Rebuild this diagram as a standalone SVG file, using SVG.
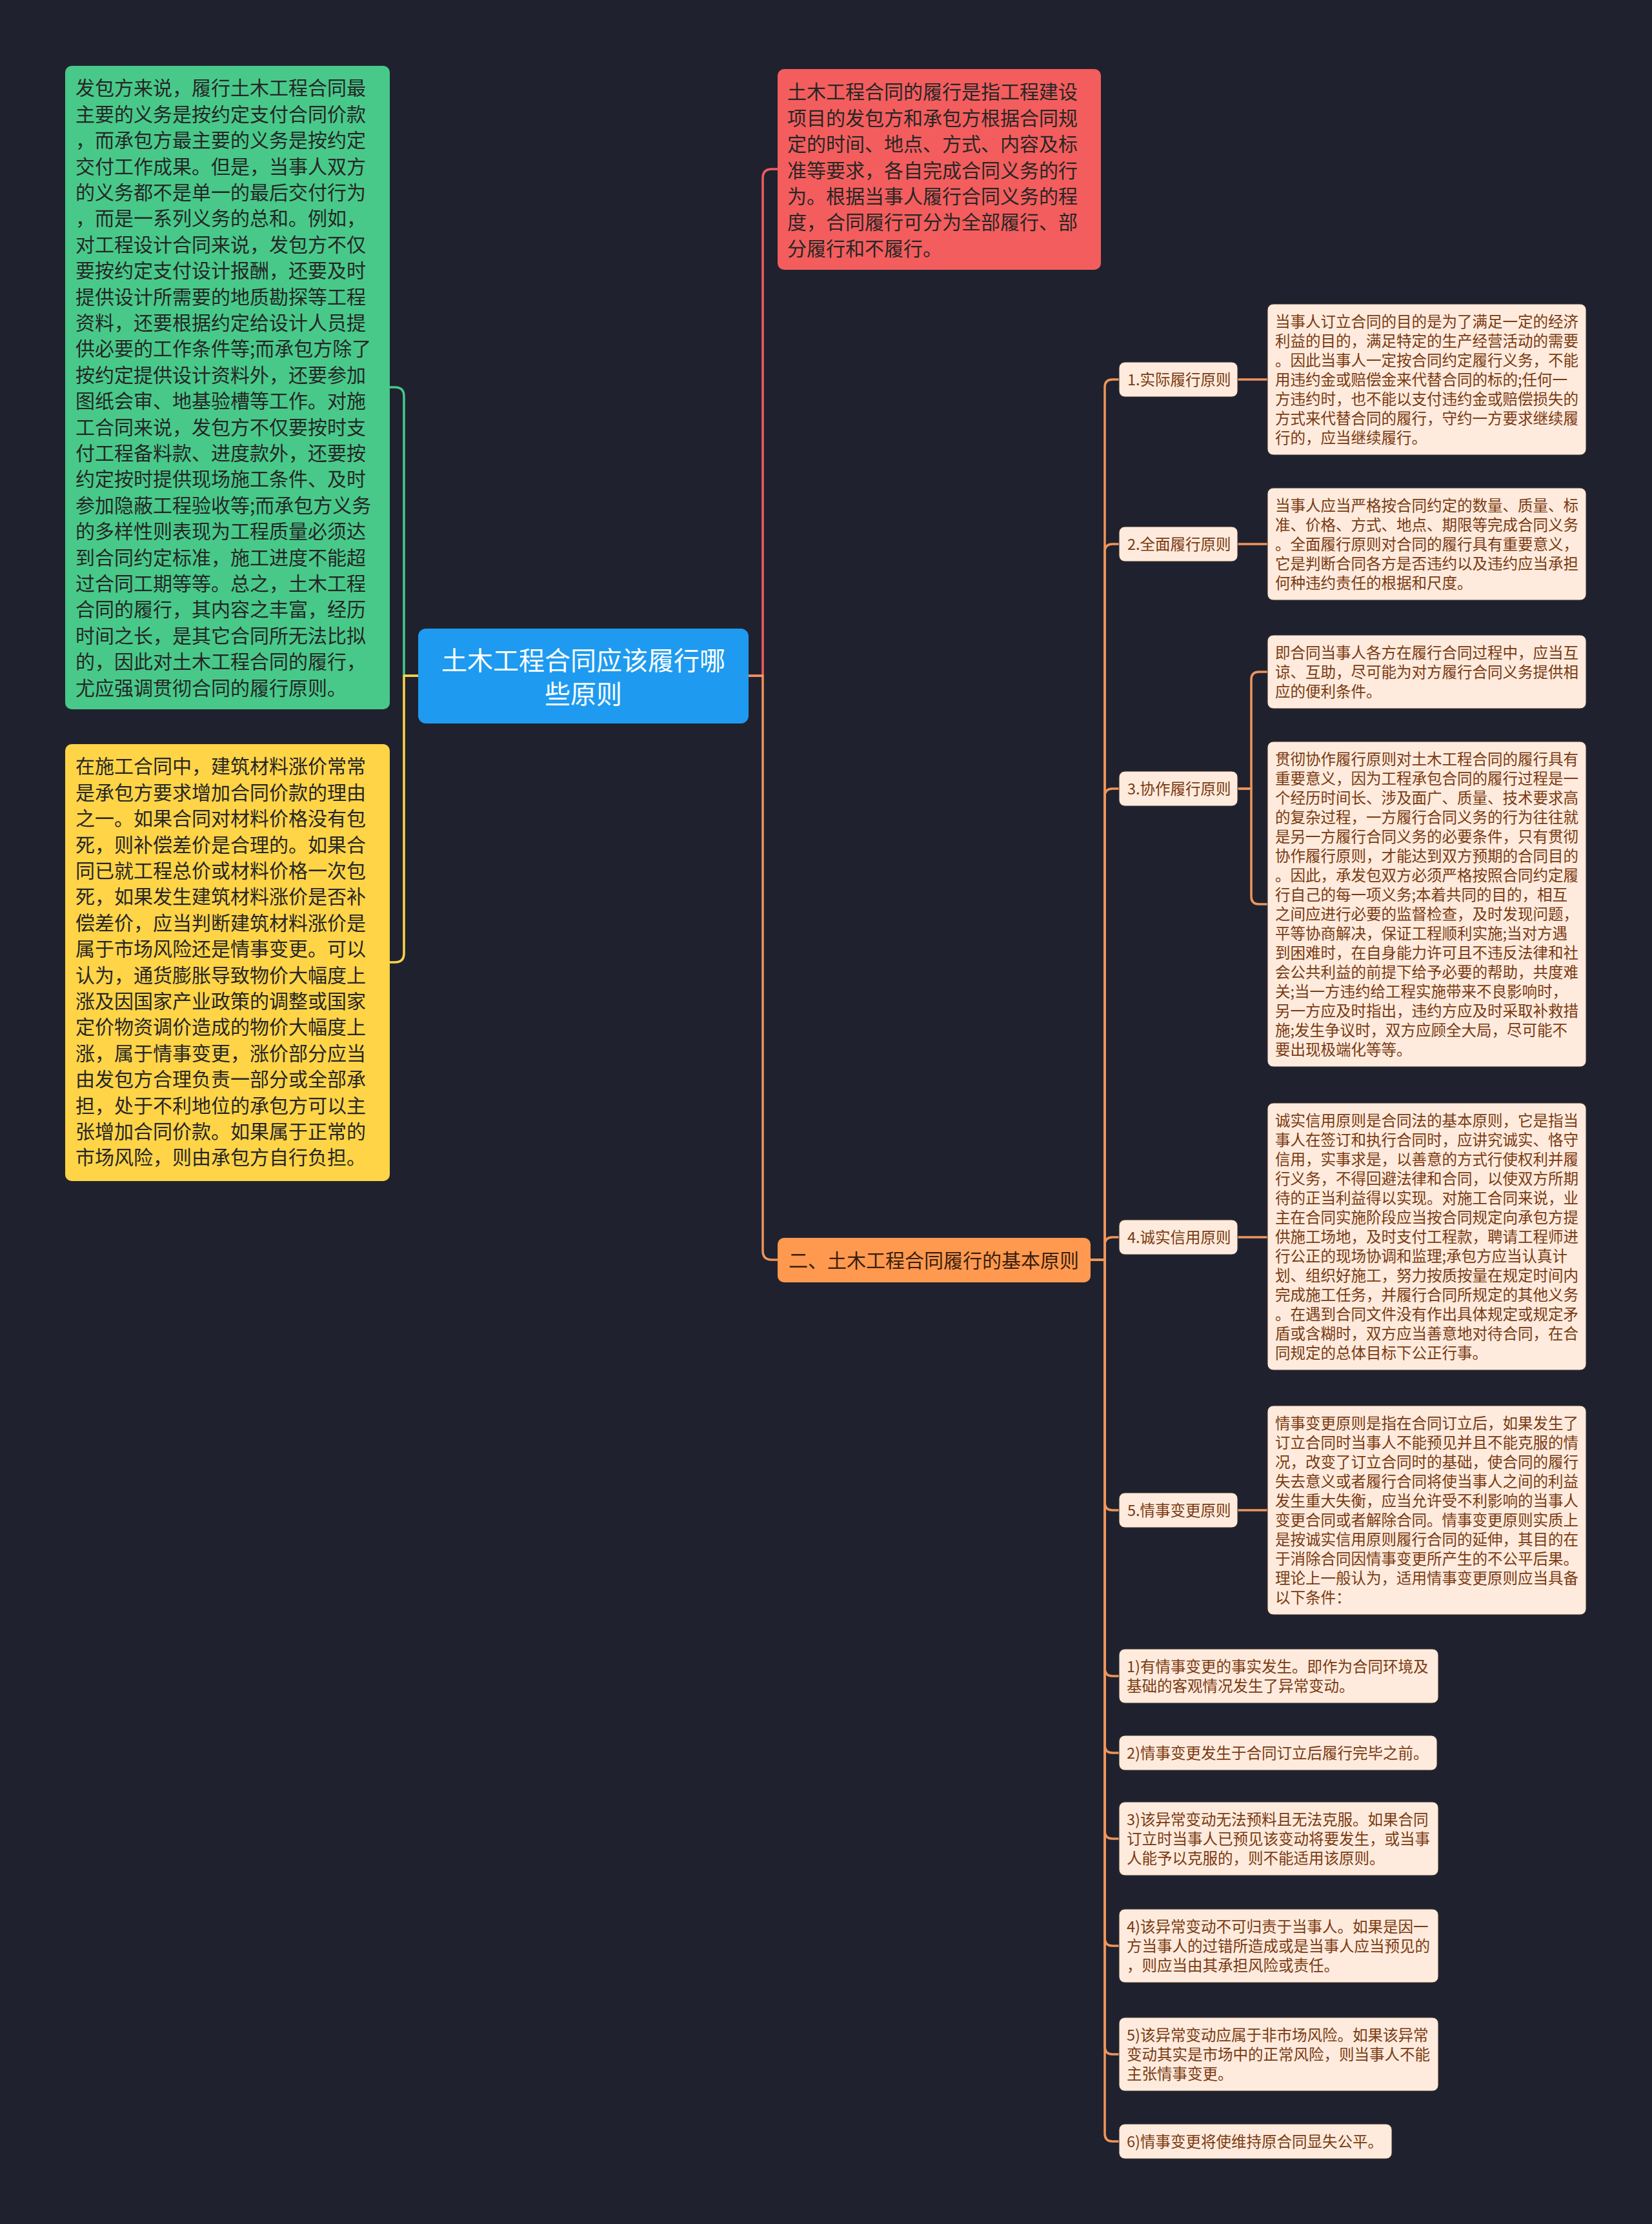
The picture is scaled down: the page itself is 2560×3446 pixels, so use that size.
<svg xmlns="http://www.w3.org/2000/svg" width="2560" height="3446" viewBox="0 0 2560 3446">
<style>
text{font-family:"Noto Sans CJK SC","Noto Sans",sans-serif;}
.big{font-size:30px;fill:#262626;}
.ctr{font-size:40px;fill:#ffffff;text-anchor:middle;}
.sec{font-size:30px;fill:#3a1e0c;text-anchor:middle;}
.sm{font-size:23.5px;fill:#7a3a12;}
.peach{fill:#feebdd;stroke:#3a2c24;stroke-width:1;}
.ln{fill:none;stroke-width:3.5;stroke-linejoin:round;}
.lo{stroke:#f0955b;}
</style>
<rect x="0" y="0" width="2560" height="3446" fill="#1f222e"/>
<g id="connectors">
<path class="ln" stroke="#48c98a" d="M648,1047 H626 V614 Q626,600 612,600 H604"/>
<path class="ln" stroke="#ffd447" d="M648,1047 H626 V1477 Q626,1491 612,1491 H604"/>
<path class="ln" stroke="#f35d5d" d="M1160,1047 H1182 V276 Q1182,262 1196,262 H1205"/>
<path class="ln lo" d="M1160,1047 H1182 V1938 Q1182,1952 1196,1952 H1205"/>
<path class="ln lo" d="M1690,1952 H1712 V600 Q1712,588 1724,588 H1734"/>
<path class="ln lo" d="M1690,1952 H1712 V855 Q1712,843 1724,843 H1734"/>
<path class="ln lo" d="M1690,1952 H1712 V1234 Q1712,1222 1724,1222 H1734"/>
<path class="ln lo" d="M1690,1952 H1712 V1929 Q1712,1917 1724,1917 H1734"/>
<path class="ln lo" d="M1690,1952 H1712 V2328 Q1712,2340 1724,2340 H1734"/>
<path class="ln lo" d="M1690,1952 H1712 V2585 Q1712,2597 1724,2597 H1734"/>
<path class="ln lo" d="M1690,1952 H1712 V2704 Q1712,2716 1724,2716 H1734"/>
<path class="ln lo" d="M1690,1952 H1712 V2837 Q1712,2849 1724,2849 H1734"/>
<path class="ln lo" d="M1690,1952 H1712 V3003 Q1712,3015 1724,3015 H1734"/>
<path class="ln lo" d="M1690,1952 H1712 V3171 Q1712,3183 1724,3183 H1734"/>
<path class="ln lo" d="M1690,1952 H1712 V3306 Q1712,3318 1724,3318 H1734"/>
<path class="ln lo" d="M1918,588 H1964"/>
<path class="ln lo" d="M1918,843 H1964"/>
<path class="ln lo" d="M1918,1222 H1939 V1053 Q1939,1041 1951,1041 H1964"/>
<path class="ln lo" d="M1918,1222 H1939 V1389 Q1939,1401 1951,1401 H1964"/>
<path class="ln lo" d="M1918,1917 H1964"/>
<path class="ln lo" d="M1918,2340 H1964"/>
</g>
<g id="center">
<rect x="648" y="974" width="512" height="147" rx="12" fill="#1e9bf0"/>
<text class="ctr" x="904" y="1038">土木工程合同应该履行哪</text>
<text class="ctr" x="904" y="1090">些原则</text>
</g>
<g id="green">
<rect x="101" y="102" width="503" height="997" rx="10" fill="#48c98a"/>
<text class="big" x="117" y="147.4"><tspan x="117">发包方来说，履行土木工程合同最</tspan><tspan x="117" dy="40.4">主要的义务是按约定支付合同价款</tspan><tspan x="117" dy="40.4">，而承包方最主要的义务是按约定</tspan><tspan x="117" dy="40.4">交付工作成果。但是，当事人双方</tspan><tspan x="117" dy="40.4">的义务都不是单一的最后交付行为</tspan><tspan x="117" dy="40.4">，而是一系列义务的总和。例如，</tspan><tspan x="117" dy="40.4">对工程设计合同来说，发包方不仅</tspan><tspan x="117" dy="40.4">要按约定支付设计报酬，还要及时</tspan><tspan x="117" dy="40.4">提供设计所需要的地质勘探等工程</tspan><tspan x="117" dy="40.4">资料，还要根据约定给设计人员提</tspan><tspan x="117" dy="40.4">供必要的工作条件等;而承包方除了</tspan><tspan x="117" dy="40.4">按约定提供设计资料外，还要参加</tspan><tspan x="117" dy="40.4">图纸会审、地基验槽等工作。对施</tspan><tspan x="117" dy="40.4">工合同来说，发包方不仅要按时支</tspan><tspan x="117" dy="40.4">付工程备料款、进度款外，还要按</tspan><tspan x="117" dy="40.4">约定按时提供现场施工条件、及时</tspan><tspan x="117" dy="40.4">参加隐蔽工程验收等;而承包方义务</tspan><tspan x="117" dy="40.4">的多样性则表现为工程质量必须达</tspan><tspan x="117" dy="40.4">到合同约定标准，施工进度不能超</tspan><tspan x="117" dy="40.4">过合同工期等等。总之，土木工程</tspan><tspan x="117" dy="40.4">合同的履行，其内容之丰富，经历</tspan><tspan x="117" dy="40.4">时间之长，是其它合同所无法比拟</tspan><tspan x="117" dy="40.4">的，因此对土木工程合同的履行，</tspan><tspan x="117" dy="40.4">尤应强调贯彻合同的履行原则。</tspan></text>
</g>
<g id="yellow">
<rect x="101" y="1153" width="503" height="677" rx="10" fill="#ffd447"/>
<text class="big" x="117" y="1198.4"><tspan x="117">在施工合同中，建筑材料涨价常常</tspan><tspan x="117" dy="40.4">是承包方要求增加合同价款的理由</tspan><tspan x="117" dy="40.4">之一。如果合同对材料价格没有包</tspan><tspan x="117" dy="40.4">死，则补偿差价是合理的。如果合</tspan><tspan x="117" dy="40.4">同已就工程总价或材料价格一次包</tspan><tspan x="117" dy="40.4">死，如果发生建筑材料涨价是否补</tspan><tspan x="117" dy="40.4">偿差价，应当判断建筑材料涨价是</tspan><tspan x="117" dy="40.4">属于市场风险还是情事变更。可以</tspan><tspan x="117" dy="40.4">认为，通货膨胀导致物价大幅度上</tspan><tspan x="117" dy="40.4">涨及因国家产业政策的调整或国家</tspan><tspan x="117" dy="40.4">定价物资调价造成的物价大幅度上</tspan><tspan x="117" dy="40.4">涨，属于情事变更，涨价部分应当</tspan><tspan x="117" dy="40.4">由发包方合理负责一部分或全部承</tspan><tspan x="117" dy="40.4">担，处于不利地位的承包方可以主</tspan><tspan x="117" dy="40.4">张增加合同价款。如果属于正常的</tspan><tspan x="117" dy="40.4">市场风险，则由承包方自行负担。</tspan></text>
</g>
<g id="red">
<rect x="1205" y="107" width="501" height="311" rx="10" fill="#f35d5d"/>
<text class="big" x="1220" y="153.4"><tspan x="1220">土木工程合同的履行是指工程建设</tspan><tspan x="1220" dy="40.4">项目的发包方和承包方根据合同规</tspan><tspan x="1220" dy="40.4">定的时间、地点、方式、内容及标</tspan><tspan x="1220" dy="40.4">准等要求，各自完成合同义务的行</tspan><tspan x="1220" dy="40.4">为。根据当事人履行合同义务的程</tspan><tspan x="1220" dy="40.4">度，合同履行可分为全部履行、部</tspan><tspan x="1220" dy="40.4">分履行和不履行。</tspan></text>
</g>
<g id="section2">
<rect x="1205" y="1918" width="485" height="69" rx="10" fill="#ff9950"/>
<text class="sec" x="1447" y="1964">二、土木工程合同履行的基本原则</text>
</g>
<g id="label1">
<rect class="peach" x="1734" y="561" width="184" height="54" rx="9"/>
<text class="sm" x="1747" y="597">1.实际履行原则</text>
</g>
<g id="detail1">
<rect class="peach" x="1964" y="471" width="494" height="234" rx="9"/>
<text class="sm" x="1976" y="507"><tspan x="1976">当事人订立合同的目的是为了满足一定的经济</tspan><tspan x="1976" dy="30">利益的目的，满足特定的生产经营活动的需要</tspan><tspan x="1976" dy="30">。因此当事人一定按合同约定履行义务，不能</tspan><tspan x="1976" dy="30">用违约金或赔偿金来代替合同的标的;任何一</tspan><tspan x="1976" dy="30">方违约时，也不能以支付违约金或赔偿损失的</tspan><tspan x="1976" dy="30">方式来代替合同的履行，守约一方要求继续履</tspan><tspan x="1976" dy="30">行的，应当继续履行。</tspan></text>
</g>
<g id="label2">
<rect class="peach" x="1734" y="816" width="184" height="54" rx="9"/>
<text class="sm" x="1747" y="852">2.全面履行原则</text>
</g>
<g id="detail2">
<rect class="peach" x="1964" y="756" width="494" height="174" rx="9"/>
<text class="sm" x="1976" y="792"><tspan x="1976">当事人应当严格按合同约定的数量、质量、标</tspan><tspan x="1976" dy="30">准、价格、方式、地点、期限等完成合同义务</tspan><tspan x="1976" dy="30">。全面履行原则对合同的履行具有重要意义，</tspan><tspan x="1976" dy="30">它是判断合同各方是否违约以及违约应当承担</tspan><tspan x="1976" dy="30">何种违约责任的根据和尺度。</tspan></text>
</g>
<g id="label3">
<rect class="peach" x="1734" y="1195" width="184" height="54" rx="9"/>
<text class="sm" x="1747" y="1231">3.协作履行原则</text>
</g>
<g id="detail3a">
<rect class="peach" x="1964" y="984" width="494" height="114" rx="9"/>
<text class="sm" x="1976" y="1020"><tspan x="1976">即合同当事人各方在履行合同过程中，应当互</tspan><tspan x="1976" dy="30">谅、互助，尽可能为对方履行合同义务提供相</tspan><tspan x="1976" dy="30">应的便利条件。</tspan></text>
</g>
<g id="detail3b">
<rect class="peach" x="1964" y="1149" width="494" height="504" rx="9"/>
<text class="sm" x="1976" y="1185"><tspan x="1976">贯彻协作履行原则对土木工程合同的履行具有</tspan><tspan x="1976" dy="30">重要意义，因为工程承包合同的履行过程是一</tspan><tspan x="1976" dy="30">个经历时间长、涉及面广、质量、技术要求高</tspan><tspan x="1976" dy="30">的复杂过程，一方履行合同义务的行为往往就</tspan><tspan x="1976" dy="30">是另一方履行合同义务的必要条件，只有贯彻</tspan><tspan x="1976" dy="30">协作履行原则，才能达到双方预期的合同目的</tspan><tspan x="1976" dy="30">。因此，承发包双方必须严格按照合同约定履</tspan><tspan x="1976" dy="30">行自己的每一项义务;本着共同的目的，相互</tspan><tspan x="1976" dy="30">之间应进行必要的监督检查，及时发现问题，</tspan><tspan x="1976" dy="30">平等协商解决，保证工程顺利实施;当对方遇</tspan><tspan x="1976" dy="30">到困难时，在自身能力许可且不违反法律和社</tspan><tspan x="1976" dy="30">会公共利益的前提下给予必要的帮助，共度难</tspan><tspan x="1976" dy="30">关;当一方违约给工程实施带来不良影响时，</tspan><tspan x="1976" dy="30">另一方应及时指出，违约方应及时采取补救措</tspan><tspan x="1976" dy="30">施;发生争议时，双方应顾全大局，尽可能不</tspan><tspan x="1976" dy="30">要出现极端化等等。</tspan></text>
</g>
<g id="label4">
<rect class="peach" x="1734" y="1890" width="184" height="54" rx="9"/>
<text class="sm" x="1747" y="1926">4.诚实信用原则</text>
</g>
<g id="detail4">
<rect class="peach" x="1964" y="1709" width="494" height="414" rx="9"/>
<text class="sm" x="1976" y="1745"><tspan x="1976">诚实信用原则是合同法的基本原则，它是指当</tspan><tspan x="1976" dy="30">事人在签订和执行合同时，应讲究诚实、恪守</tspan><tspan x="1976" dy="30">信用，实事求是，以善意的方式行使权利并履</tspan><tspan x="1976" dy="30">行义务，不得回避法律和合同，以使双方所期</tspan><tspan x="1976" dy="30">待的正当利益得以实现。对施工合同来说，业</tspan><tspan x="1976" dy="30">主在合同实施阶段应当按合同规定向承包方提</tspan><tspan x="1976" dy="30">供施工场地，及时支付工程款，聘请工程师进</tspan><tspan x="1976" dy="30">行公正的现场协调和监理;承包方应当认真计</tspan><tspan x="1976" dy="30">划、组织好施工，努力按质按量在规定时间内</tspan><tspan x="1976" dy="30">完成施工任务，并履行合同所规定的其他义务</tspan><tspan x="1976" dy="30">。在遇到合同文件没有作出具体规定或规定矛</tspan><tspan x="1976" dy="30">盾或含糊时，双方应当善意地对待合同，在合</tspan><tspan x="1976" dy="30">同规定的总体目标下公正行事。</tspan></text>
</g>
<g id="label5">
<rect class="peach" x="1734" y="2313" width="184" height="54" rx="9"/>
<text class="sm" x="1747" y="2349">5.情事变更原则</text>
</g>
<g id="detail5">
<rect class="peach" x="1964" y="2178" width="494" height="324" rx="9"/>
<text class="sm" x="1976" y="2214"><tspan x="1976">情事变更原则是指在合同订立后，如果发生了</tspan><tspan x="1976" dy="30">订立合同时当事人不能预见并且不能克服的情</tspan><tspan x="1976" dy="30">况，改变了订立合同时的基础，使合同的履行</tspan><tspan x="1976" dy="30">失去意义或者履行合同将使当事人之间的利益</tspan><tspan x="1976" dy="30">发生重大失衡，应当允许受不利影响的当事人</tspan><tspan x="1976" dy="30">变更合同或者解除合同。情事变更原则实质上</tspan><tspan x="1976" dy="30">是按诚实信用原则履行合同的延伸，其目的在</tspan><tspan x="1976" dy="30">于消除合同因情事变更所产生的不公平后果。</tspan><tspan x="1976" dy="30">理论上一般认为，适用情事变更原则应当具备</tspan><tspan x="1976" dy="30">以下条件：</tspan></text>
</g>
<g id="item1">
<rect class="peach" x="1734" y="2555" width="495" height="84" rx="9"/>
<text class="sm" x="1746" y="2591"><tspan x="1746">1)有情事变更的事实发生。即作为合同环境及</tspan><tspan x="1746" dy="30">基础的客观情况发生了异常变动。</tspan></text>
</g>
<g id="item2">
<rect class="peach" x="1734" y="2689" width="493" height="54" rx="9"/>
<text class="sm" x="1746" y="2725">2)情事变更发生于合同订立后履行完毕之前。</text>
</g>
<g id="item3">
<rect class="peach" x="1734" y="2792" width="495" height="114" rx="9"/>
<text class="sm" x="1746" y="2828"><tspan x="1746">3)该异常变动无法预料且无法克服。如果合同</tspan><tspan x="1746" dy="30">订立时当事人已预见该变动将要发生，或当事</tspan><tspan x="1746" dy="30">人能予以克服的，则不能适用该原则。</tspan></text>
</g>
<g id="item4">
<rect class="peach" x="1734" y="2958" width="495" height="114" rx="9"/>
<text class="sm" x="1746" y="2994"><tspan x="1746">4)该异常变动不可归责于当事人。如果是因一</tspan><tspan x="1746" dy="30">方当事人的过错所造成或是当事人应当预见的</tspan><tspan x="1746" dy="30">，则应当由其承担风险或责任。</tspan></text>
</g>
<g id="item5">
<rect class="peach" x="1734" y="3126" width="495" height="114" rx="9"/>
<text class="sm" x="1746" y="3162"><tspan x="1746">5)该异常变动应属于非市场风险。如果该异常</tspan><tspan x="1746" dy="30">变动其实是市场中的正常风险，则当事人不能</tspan><tspan x="1746" dy="30">主张情事变更。</tspan></text>
</g>
<g id="item6">
<rect class="peach" x="1734" y="3291" width="423" height="54" rx="9"/>
<text class="sm" x="1746" y="3327">6)情事变更将使维持原合同显失公平。</text>
</g>
</svg>
